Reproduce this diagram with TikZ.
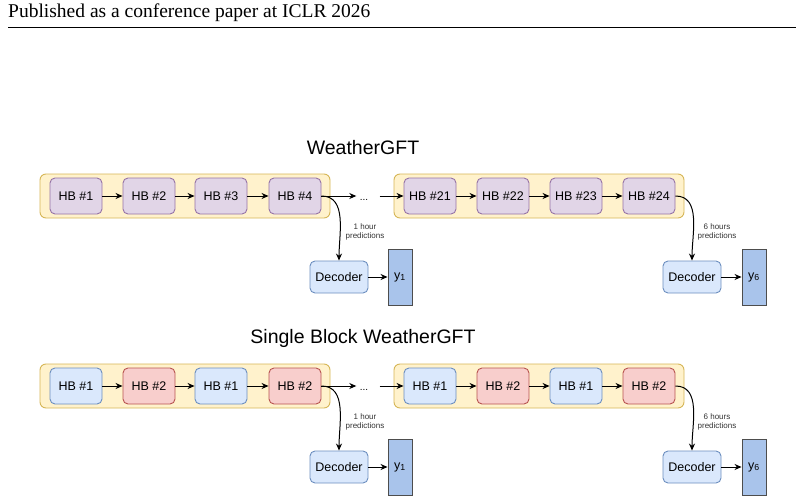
\documentclass[tikz,border=0pt]{standalone}
\usepackage{fontspec}
\setmainfont{Liberation Sans}
\newfontfamily\serifhead{Liberation Serif}
\usetikzlibrary{arrows.meta}
\definecolor{hbp}{HTML}{E1D5E7}\definecolor{hbpd}{HTML}{9673A6}
\definecolor{cont}{HTML}{FFF2CC}\definecolor{contd}{HTML}{D6B656}
\definecolor{blu}{HTML}{DAE8FC}\definecolor{blud}{HTML}{6C8EBF}
\definecolor{redf}{HTML}{F8CECC}\definecolor{redd}{HTML}{B85450}
\definecolor{yf}{HTML}{A9C4EB}\definecolor{yd}{HTML}{4D4D4D}
\begin{document}
\begin{tikzpicture}[x=1pt,y=-1pt,
 box/.style={rounded corners=5pt,line width=0.9pt,minimum width=52pt,minimum height=36pt,font=\fontsize{12.5}{14}\selectfont,inner sep=0},
 hbp/.style={box,draw=hbpd,fill=hbp},
 hbb/.style={box,draw=blud,fill=blu},
 hbr/.style={box,draw=redd,fill=redf},
 contbox/.style={rounded corners=6pt,line width=0.9pt,draw=contd,fill=cont,minimum width=290pt,minimum height=44pt,inner sep=0},
 dec/.style={box,draw=blud,fill=blu,minimum width=58pt,minimum height=32pt},
 ybox/.style={draw=yd,line width=0.9pt,fill=yf,minimum width=24pt,minimum height=56pt,inner sep=0,font=\fontsize{12.5}{14}\selectfont},
 arr/.style={-{Stealth[length=7pt,width=6pt]},line width=1pt},
 lab/.style={font=\fontsize{8}{9.5}\selectfont,align=center,text=black!80},
 ttl/.style={font=\fontsize{19.5}{22}\selectfont}]
\useasboundingbox (0,0) rectangle (804,503);
\node[anchor=west,font=\serifhead\fontsize{19.5}{22}\selectfont,inner sep=0] (hdr) at (8,13) {Published as a conference paper at ICLR 2026};
\draw[line width=0.6pt] (8,27) -- (796,27);
\foreach \r/\oy/\tt in {a/0/WeatherGFT,b/190/Single Block WeatherGFT}{
 \node[ttl] (t\r) at (363,148+\oy) {\tt};
 \node[contbox] (c1\r) at (185,196+\oy) {};
 \node[contbox] (c2\r) at (539,196+\oy) {};
 \node (dots\r) at (364,200+\oy) {...};
 \node[dec] (d1\r) at (339,277+\oy) {Decoder};
 \node[ybox] (y1\r) at (400,277+\oy) {y\textsubscript{1}};
 \node[dec] (d2\r) at (692,277+\oy) {Decoder};
 \node[ybox] (y2\r) at (754,277+\oy) {y\textsubscript{6}};
 \draw[arr] (d1\r) -- (y1\r);
 \draw[arr] (d2\r) -- (y2\r);
 \node[lab] (l1\r) at (365,232+\oy) {1 hour\\predictions};
 \node[lab] (l2\r) at (717,232+\oy) {6 hours\\predictions};
}
\foreach \n/\x/\t/\s in {1/76/HB \#1/hbp,2/149/HB \#2/hbp,3/221/HB \#3/hbp,4/295/HB \#4/hbp,5/430/HB \#21/hbp,6/503/HB \#22/hbp,7/576/HB \#23/hbp,8/649/HB \#24/hbp}
 \node[\s] (a\n) at (\x,196) {\t};
\foreach \n/\x/\t/\s in {1/76/HB \#1/hbb,2/149/HB \#2/hbr,3/221/HB \#1/hbb,4/295/HB \#2/hbr,5/430/HB \#1/hbb,6/503/HB \#2/hbr,7/576/HB \#1/hbb,8/649/HB \#2/hbr}
 \node[\s] (b\n) at (\x,386) {\t};
\foreach \r in {a,b}{
 \foreach \i/\j in {1/2,2/3,3/4,5/6,6/7,7/8} \draw[arr] (\r\i) -- (\r\j);
 \draw[arr] (\r4.east) -- (dots\r.west|-\r4.east);
 \draw[arr] (dots\r.east|-\r5.west) ++(8,0) -- (\r5.west);
 \draw[arr] (\r4.east) to[out=0,in=90] (d1\r.north);
 \draw[arr] (\r8.east) to[out=0,in=90] (d2\r.north);
}
\end{tikzpicture}
\end{document}
